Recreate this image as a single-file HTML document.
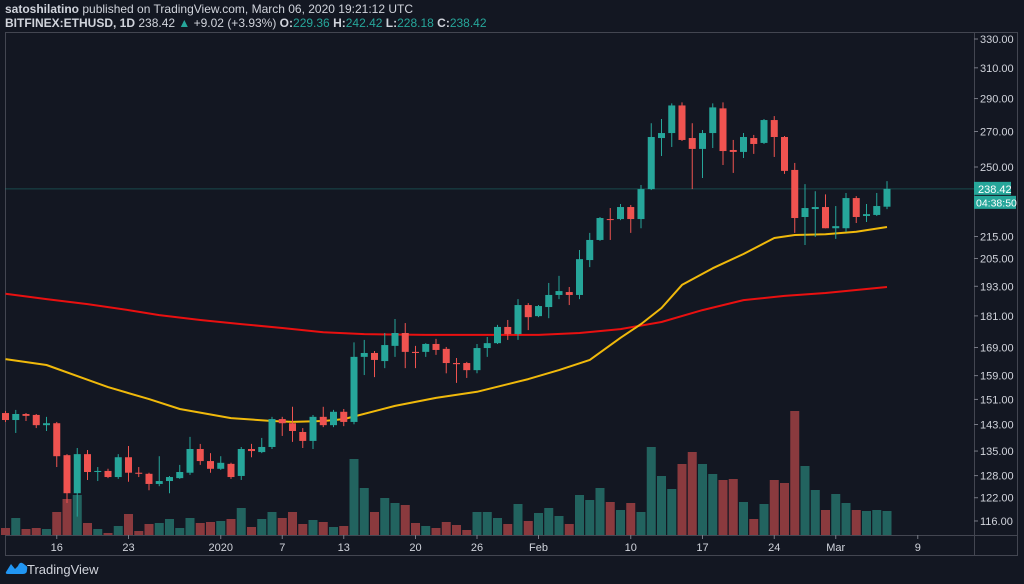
<!DOCTYPE html>
<html><head><meta charset="utf-8"><style>
html,body{margin:0;padding:0;background:#131722;width:1024px;height:584px;overflow:hidden;font-family:"Liberation Sans",sans-serif}
svg{display:block}
</style></head><body>
<svg id="chart" width="1024" height="584" xmlns="http://www.w3.org/2000/svg">
<rect x="0" y="0" width="1024" height="584" fill="#131722"/>
<text x="5" y="13" font-size="12" fill="#d1d4dc"><tspan font-weight="bold">satoshilatino</tspan> published on TradingView.com, March 06, 2020 19:21:12 UTC</text>
<text x="5" y="27" font-size="12" fill="#d1d4dc"><tspan font-weight="bold">BITFINEX:ETHUSD, 1D</tspan> 238.42 <tspan fill="#26a69a">▲</tspan> +9.02 (+3.93%) <tspan font-weight="bold">O:</tspan><tspan fill="#26a69a">229.36</tspan> <tspan font-weight="bold">H:</tspan><tspan fill="#26a69a">242.42</tspan> <tspan font-weight="bold">L:</tspan><tspan fill="#26a69a">228.18</tspan> <tspan font-weight="bold">C:</tspan><tspan fill="#26a69a">238.42</tspan></text>
<rect x="5.5" y="32.5" width="1012" height="523" fill="none" stroke="#434651"/>
<line x1="974.5" y1="32" x2="974.5" y2="556" stroke="#434651"/>
<line x1="5" y1="535.5" x2="1018" y2="535.5" stroke="#434651"/>
<g id="vol"></g><g id="ma"></g><g id="candles"></g><g id="yaxis"></g><g id="xaxis"></g>
<g>
<path d="M6 572 L11 564 L15 569 L18 566 Q20 560 25 565 Q28 566 27 570 Q27 574 23 574 L8 574 Q5 574 6 572Z" fill="#2196f3"/>
<text x="27" y="574" font-size="13" fill="#d1d4dc">TradingView</text>
</g>
</svg>
<script>
const opens=[146.6,144.4,146.3,146.0,142.8,143.4,133.8,123.2,134.1,129.0,129.3,127.6,133.2,128.8,128.5,125.7,126.5,127.3,128.8,135.6,132.1,129.9,131.3,127.9,135.6,134.7,136.2,144.7,143.4,140.7,138.0,145.4,142.8,147.0,143.8,165.6,167.0,164.1,169.6,174.4,167.4,167.4,170.3,168.5,163.4,163.4,160.9,168.8,170.6,176.7,174.0,185.3,180.9,184.5,189.4,190.6,189.4,204.3,213.4,223.3,223.3,229.2,223.3,238.3,266.2,269.1,285.7,266.2,260.0,269.1,283.9,259.4,258.3,266.2,263.4,276.8,266.8,248.4,224.3,228.2,229.2,218.9,218.9,233.7,224.8,225.3,229.36];
const highs=[147.3,147.6,146.6,146.3,145.4,143.8,134.1,135.9,135.3,130.4,129.9,134.1,136.5,130.4,128.8,133.5,127.9,131.0,139.2,137.1,134.4,133.5,131.6,136.2,137.1,138.9,145.4,145.4,148.6,141.9,146.0,148.6,147.6,147.9,170.9,171.8,167.7,174.4,179.8,178.2,169.6,170.6,172.2,169.2,165.2,163.8,170.3,172.9,177.5,179.4,187.7,186.1,185.3,194.4,197.4,192.7,208.8,216.7,224.3,228.7,230.7,230.2,240.4,274.9,277.4,287.0,287.6,274.9,270.9,287.0,287.6,265.1,269.1,268.0,277.4,279.2,267.4,252.2,240.9,237.2,235.6,229.7,236.3,234.7,230.7,236.3,242.42];
const lows=[143.8,140.4,144.1,141.9,141.0,130.4,120.6,117.1,126.8,126.5,127.3,127.1,126.3,127.6,124.0,125.1,123.2,127.1,128.2,131.0,128.8,129.6,127.1,126.8,133.2,134.4,135.6,139.5,137.7,135.9,135.6,142.2,142.2,142.5,143.1,159.2,158.5,161.6,165.6,161.6,161.6,165.6,166.3,159.8,156.5,158.2,159.8,165.6,170.3,171.8,171.8,175.5,180.5,180.1,187.7,185.3,187.7,201.2,213.0,213.4,222.8,216.7,218.9,237.8,256.0,261.1,264.5,238.3,244.1,260.5,251.1,246.8,254.9,257.2,262.8,255.5,246.3,216.7,211.1,214.8,218.9,213.9,217.2,221.4,221.9,224.8,228.18];
const closes=[144.4,146.3,145.7,142.8,143.4,133.5,123.2,134.1,129.0,129.3,127.6,133.2,128.8,128.5,125.7,126.5,127.6,129.0,135.6,132.1,129.9,131.6,127.6,135.6,135.0,136.2,144.7,143.4,141.0,138.0,145.4,142.8,147.0,143.8,165.6,167.0,164.5,169.9,174.4,167.4,167.0,170.3,168.1,163.4,163.0,160.9,168.8,170.6,176.7,174.0,185.3,180.5,184.9,189.4,191.0,189.4,204.7,213.4,223.8,222.8,229.2,223.3,238.3,266.8,269.1,285.7,265.1,260.0,269.1,284.5,258.8,258.3,266.8,262.8,276.8,266.8,247.9,223.8,228.7,229.2,218.9,219.9,233.7,224.3,225.7,229.7,238.42];
const volumes=[7,17,6,7,6,23,36,40,12,6,2,9,21,4,11,12,16,7,17,12,13,14,16,27,8,16,23,17,23,11,15,13,8,9,76,47,23,37,32,30,12,9,7,13,10,5,23,23,17,11,31,14,22,27,19,11,40,35,47,33,25,32,23,88,59,46,71,83,71,61,55,56,33,16,31,55,52,124,69,45,25,41,32,25,24,25,24];
const maDays=[0,4,10,14,17,22,26,28,31,33,38,42,46,51,54,57,60,62,64,66,69,72,75,77,80,83,86];
const ma50=[164.8,162.7,155.1,151.1,147.9,145.0,144.1,143.8,144.1,144.7,148.9,151.5,153.5,157.8,160.9,164.5,172.6,177.8,184.1,193.6,200.7,207.0,214.3,215.7,216.1,217.2,219.5];
const ma200Days=[0,4,8,12,15,19,23,27,31,35,41,46,52,56,60,64,68,72,76,80,86];
const ma200=[189.9,187.7,185.7,183.3,181.3,179.4,177.8,176.3,174.7,174.0,173.7,173.7,173.7,174.4,175.9,178.6,183.3,187.3,189.0,190.2,192.7];
const yTicks=[330,310,290,270,250,215,205,193,181,169,159,151,143,135,128,122,116];
const xTickIdx=[5,12,21,27,33,40,46,52,61,68,75,81,89];
const xTickLabels=["16","23","2020","7","13","20","26","Feb","10","17","24","Mar","9"];

const NS="http://www.w3.org/2000/svg";
function X(i){return 5.5+i*10.25;}
function Y(p){return 39+461*Math.log(330/p);}
function V(v){return 535-v;}
function mk(tag,attrs,parent){const e=document.createElementNS(NS,tag);for(const k in attrs)e.setAttribute(k,attrs[k]);parent.appendChild(e);return e;}
const G="#26a69a",R="#ef5350";
const vol=document.getElementById('vol'),cg=document.getElementById('candles'),ma=document.getElementById('ma'),ya=document.getElementById('yaxis'),xa=document.getElementById('xaxis');
for(let i=0;i<volumes.length;i++){
  const up=closes[i]>=opens[i];
  const b=mk('rect',{x:X(i)-4.5,y:V(volumes[i]),width:9,height:volumes[i],fill:up?'#22635f':'#8a3a3e'},vol);
  
  
}
function line(days,vals,color,name){
  let d='';for(let k=0;k<days.length;k++)d+=(k?'L':'M')+X(days[k]).toFixed(1)+' '+Y(vals[k]).toFixed(1);
  const p=mk('path',{d:d,fill:'none',stroke:color,'stroke-width':2,'stroke-linejoin':'round'},ma);
  
  
}
line(ma200Days,ma200,'#e91010','ma-200-line');
line(maDays,ma50,'#f0b90b','ma-50-line');
const pl=mk('line',{x1:5,x2:974,y1:Y(238.42),y2:Y(238.42),stroke:'#26a69a','stroke-opacity':0.35},cg);


for(let i=0;i<opens.length;i++){
  const up=closes[i]>=opens[i],c=up?G:R,x=X(i);
  const g=mk('g',{},cg);
  
  
  mk('line',{x1:x,x2:x,y1:Y(highs[i]),y2:Y(lows[i]),stroke:c,'stroke-width':1},g);
  const t=Y(Math.max(opens[i],closes[i])),bt=Y(Math.min(opens[i],closes[i]));
  mk('rect',{x:x-3.5,y:t,width:7,height:Math.max(1,bt-t),fill:c},g);
}
for(const v of yTicks){
  const y=Y(v);
  mk('line',{x1:974,x2:978,y1:y,y2:y,stroke:'#787b86'},ya);
  const t=mk('text',{x:980,y:y+4,'font-size':11,fill:'#d1d4dc'},ya);
  t.textContent=v.toFixed(2);
  
  
}
const yl=Y(238.42);
const bx=mk('rect',{x:974,y:yl-7,width:37,height:13,fill:G},ya);


const lt=mk('text',{x:978,y:yl+4,'font-size':11,fill:'#ffffff'},ya);lt.textContent='238.42';


const cb=mk('rect',{x:974,y:yl+7,width:42,height:13,fill:G},ya);


const ct=mk('text',{x:976,y:yl+17.5,'font-size':10.5,fill:'#ffffff'},ya);ct.textContent='04:38:50';


for(let k=0;k<xTickIdx.length;k++){
  const x=X(xTickIdx[k]);
  mk('line',{x1:x,x2:x,y1:535,y2:539,stroke:'#787b86'},xa);
  const t=mk('text',{x:x,y:551,'font-size':11,fill:'#d1d4dc','text-anchor':'middle'},xa);
  t.textContent=xTickLabels[k];
  
  
}
</script>
</body></html>
